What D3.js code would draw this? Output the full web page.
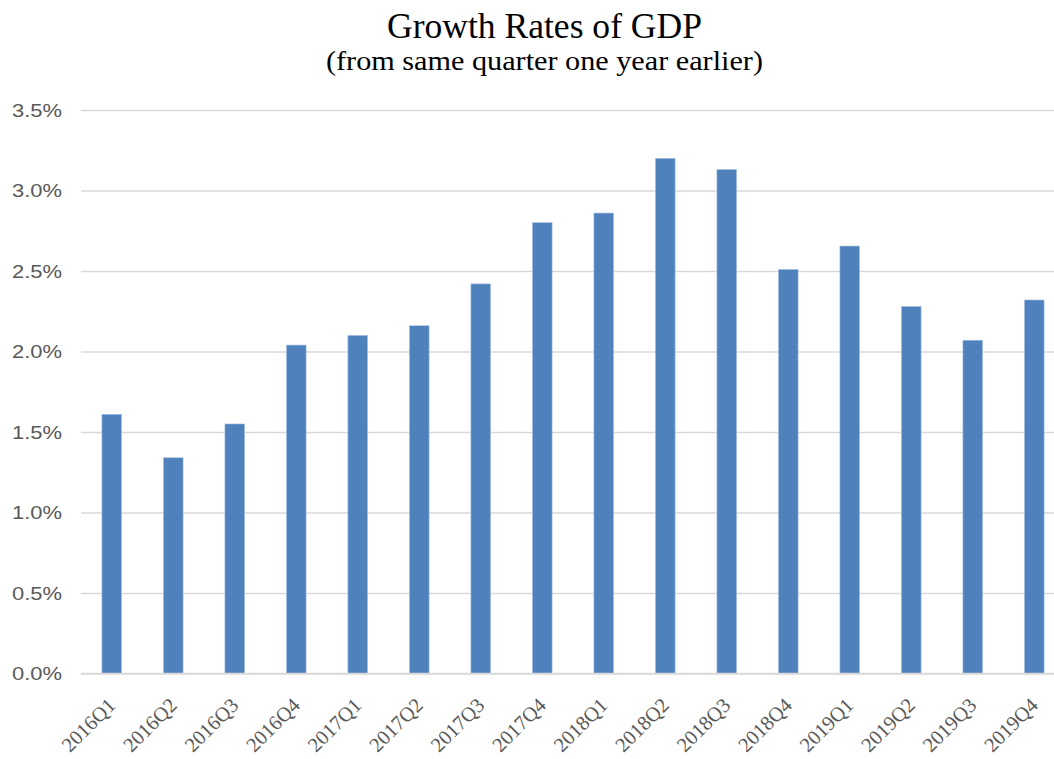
<!DOCTYPE html>
<html><head><meta charset="utf-8">
<script src="https://cdn.jsdelivr.net/npm/d3@7"></script>
<style>body{margin:0;background:#fff}svg{display:block}</style>
</head><body>
<svg id="c" width="1054" height="759"></svg>
<script>
const categories = ["2016Q1","2016Q2","2016Q3","2016Q4","2017Q1","2017Q2","2017Q3","2017Q4","2018Q1","2018Q2","2018Q3","2018Q4","2019Q1","2019Q2","2019Q3","2019Q4"];
const values = [1.61,1.34,1.55,2.04,2.10,2.16,2.42,2.80,2.86,3.20,3.13,2.51,2.655,2.28,2.07,2.32];
const yTicks = [0,0.5,1.0,1.5,2.0,2.5,3.0,3.5];
const title = "Growth Rates of GDP";
const subtitle = "(from same quarter one year earlier)";

const svg = d3.select("#c");
const mLeft = 81, mRight = 1065, mTop = 110, mBottom = 673.5;
const x = d3.scaleBand().domain(categories).range([mLeft, mRight]).paddingInner(0.68).paddingOuter(0.34);
const y = d3.scaleLinear().domain([0,3.5]).range([mBottom, mTop]);

svg.append("text").attr("x",544.5).attr("y",38).attr("text-anchor","middle")
  .attr("font-family","'Liberation Serif','DejaVu Serif',serif").attr("font-size",36).attr("fill","#000")
  .attr("textLength",315).attr("lengthAdjust","spacingAndGlyphs").text(title);
svg.append("text").attr("x",544.5).attr("y",70).attr("text-anchor","middle")
  .attr("font-family","'Liberation Serif','DejaVu Serif',serif").attr("font-size",28).attr("fill","#000")
  .attr("textLength",437).attr("lengthAdjust","spacingAndGlyphs").text(subtitle);

// gridlines
const yAxis = d3.axisLeft(y).tickValues(yTicks).tickFormat(d => d.toFixed(1) + "%").tickSize(-(mRight-mLeft)).tickPadding(19);
const ga = svg.append("g").attr("transform",`translate(${mLeft},0)`).call(yAxis);
ga.select(".domain").remove();
ga.selectAll(".tick line").attr("stroke","#d9d9d9").attr("stroke-width",1.3);
ga.selectAll(".tick text").attr("fill","#595959").attr("font-family","'Liberation Sans','DejaVu Sans',sans-serif").attr("font-size",19)
  .attr("textLength",50).attr("lengthAdjust","spacingAndGlyphs");

// bars
svg.append("g").selectAll("rect").data(values).join("rect")
  .attr("x",(d,i)=>x(categories[i]))
  .attr("y",d=>y(d))
  .attr("width",x.bandwidth())
  .attr("height",d=>y(0)-y(d))
  .attr("fill","#4f81bd")
  .attr("stroke","#a9c1e2").attr("stroke-width",0.6);

// baseline
svg.append("line").attr("x1",mLeft).attr("x2",mRight).attr("y1",mBottom).attr("y2",mBottom).attr("stroke","#d9d9d9").attr("stroke-width",1.3);

// x labels
const xAxis = d3.axisBottom(x).tickSize(0).tickPadding(0);
const gx = svg.append("g").attr("transform",`translate(0,${mBottom})`).call(xAxis);
gx.select(".domain").remove();
gx.selectAll(".tick text")
  .attr("fill","#595959").attr("font-family","'Liberation Serif','DejaVu Serif',serif").attr("font-size",20.5)
  .attr("text-anchor","end").attr("dy",0)
  .attr("transform","translate(5,33) rotate(-45)");
</script>
</body></html>
